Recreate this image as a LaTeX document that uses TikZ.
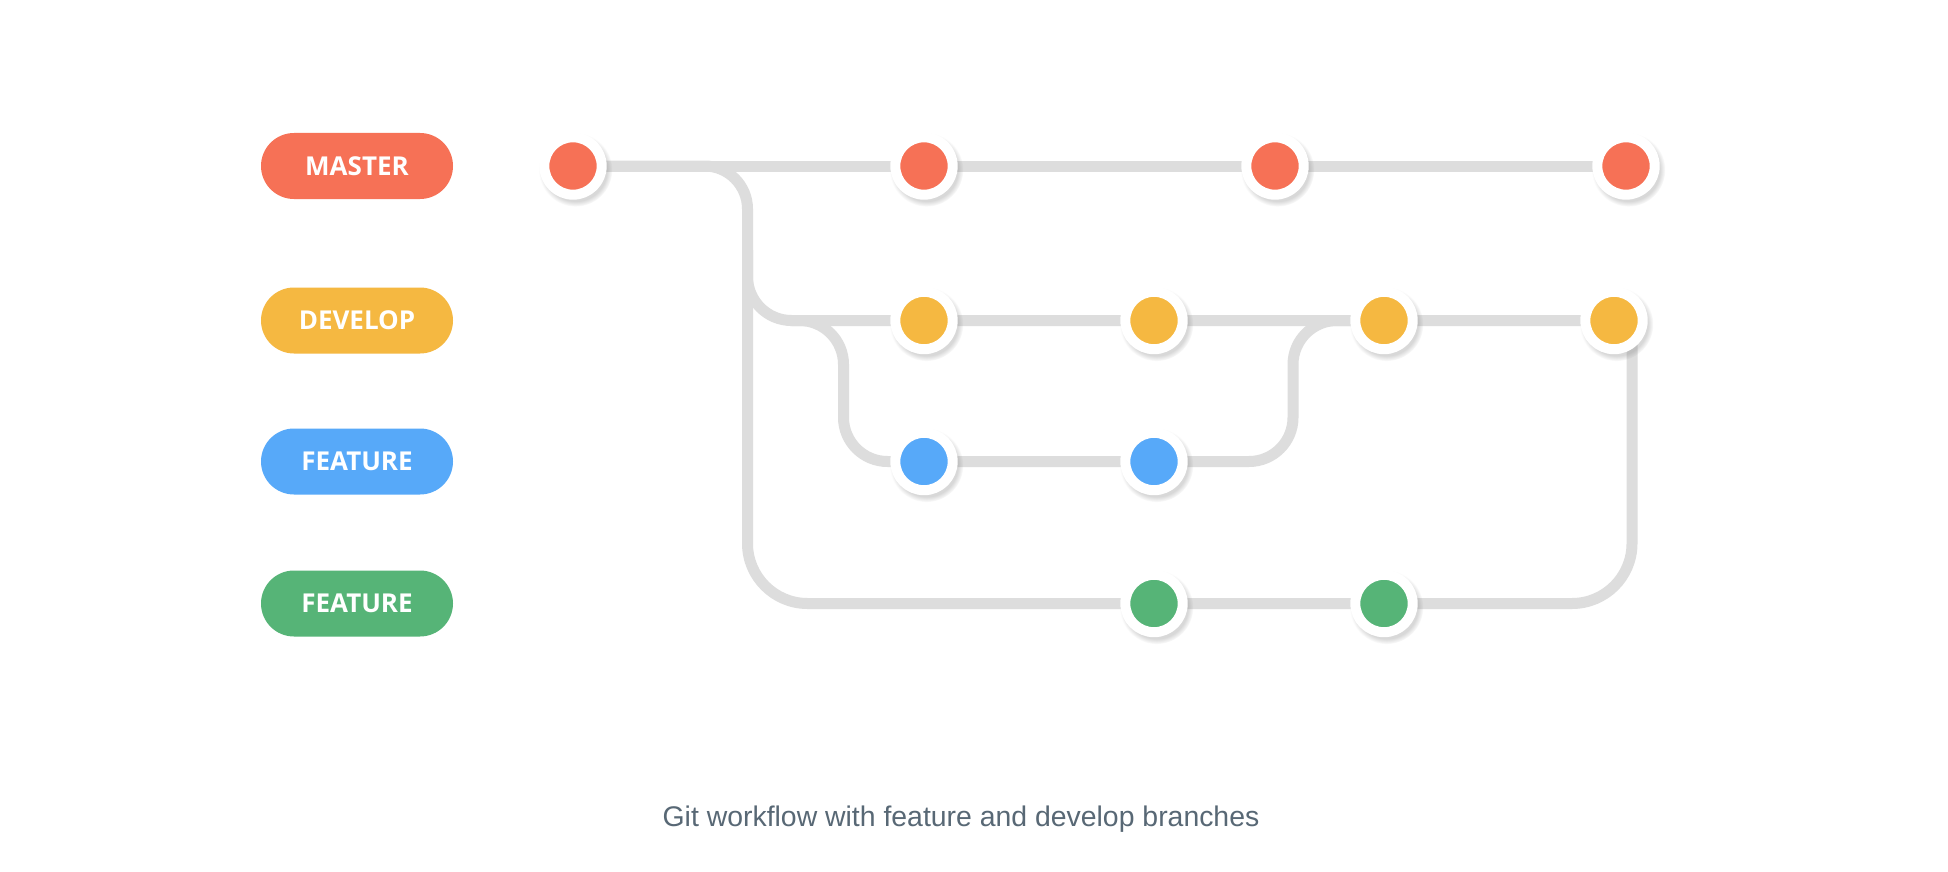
\documentclass[tikz,border=0pt]{standalone}
\usepackage{fontspec}
\setmainfont{Open Sans}
\newfontfamily\captionfont{Liberation Sans}
\usetikzlibrary{calc, shadows, backgrounds}

\definecolor{masterc}{RGB}{246,113,86}
\definecolor{developc}{RGB}{245,184,65}
\definecolor{featureb}{RGB}{87,169,249}
\definecolor{featureg}{RGB}{86,180,119}
\definecolor{linec}{RGB}{221,221,221}
\definecolor{captionc}{RGB}{88,104,117}

\begin{document}
\begin{tikzpicture}[line cap=round,line join=round,x=0.5pt,y=-0.5pt,
  branch/.style={line width=5.5pt, color=linec, line cap=butt},
  commit/.style={circle, fill=#1, draw=white, line width=5pt, minimum size=28.7pt, inner sep=0pt,
    circular drop shadow={shadow xshift=1pt, shadow yshift=-1.5pt, shadow scale=1.28, opacity=0.3}},
  pill/.style={fill=#1, text=white, rounded corners=16.5pt, minimum width=96pt, minimum height=33pt,
    inner sep=0pt, font=\bfseries\fontsize{13}{15}\selectfont}]
\useasboundingbox (0,0) rectangle (1948,872);

% --- branch labels ---
\node[pill=masterc]  (lmaster)   at (357,166)   {MASTER};
\node[pill=developc] (ldevelop)  at (357,320.5) {DEVELOP};
\node[pill=featureb] (lfeatureb) at (357,461.5) {FEATURE};
\node[pill=featureg] (lfeatureg) at (357,603.5) {FEATURE};

% --- commits ---
% master
\node[commit=masterc] (m1) at (573,166)  {};
\node[commit=masterc] (m2) at (924,166)  {};
\node[commit=masterc] (m3) at (1275,166) {};
\node[commit=masterc] (m4) at (1626,166) {};
% develop
\node[commit=developc] (d1) at (924,320.5)  {};
\node[commit=developc] (d2) at (1154,320.5) {};
\node[commit=developc] (d3) at (1384,320.5) {};
\node[commit=developc] (d4) at (1614,320.5) {};
% feature (blue)
\node[commit=featureb] (b1) at (924,461.5)  {};
\node[commit=featureb] (b2) at (1154,461.5) {};
% feature (green)
\node[commit=featureg] (g1) at (1154,603.5) {};
\node[commit=featureg] (g2) at (1384,603.5) {};

% --- turning points of the branches ---
\coordinate (trunk)  at (747.5,0);
\coordinate (dvfork) at (747.5,250);
\coordinate (fbfork) at (790,320.5);
\coordinate (fbin)   at (843.5,0);
\coordinate (fbout)  at (1293,0);
\coordinate (fgout)  at (1632,0);

% --- branch lines (behind the commits) ---
\begin{pgfonlayer}{background}
\fill[white] (0,0) rectangle (1948,872);
\draw[branch] (m1.center) -- (m4.center);
\draw[branch] (m1.center) [rounded corners=21.5pt] -- (trunk |- m1.center)
  [rounded corners=30pt] -- (trunk |- g1.center) -- (g2.center) -| (fgout |- d4.center);
\draw[branch, rounded corners=22pt] (dvfork) |- (d1.center) -- (d4.center);
\draw[branch, rounded corners=22pt] (fbfork) -| (fbin |- b1.center) -- (b2.center)
  -| (fbout |- d3.center) -- (d3.center);
\end{pgfonlayer}

% --- caption ---
\node[anchor=base, text=captionc, font=\captionfont\fontsize{14.2}{17}\selectfont] (caption)
  at (961,826) {Git workflow with feature and develop branches};

\end{tikzpicture}
\end{document}
